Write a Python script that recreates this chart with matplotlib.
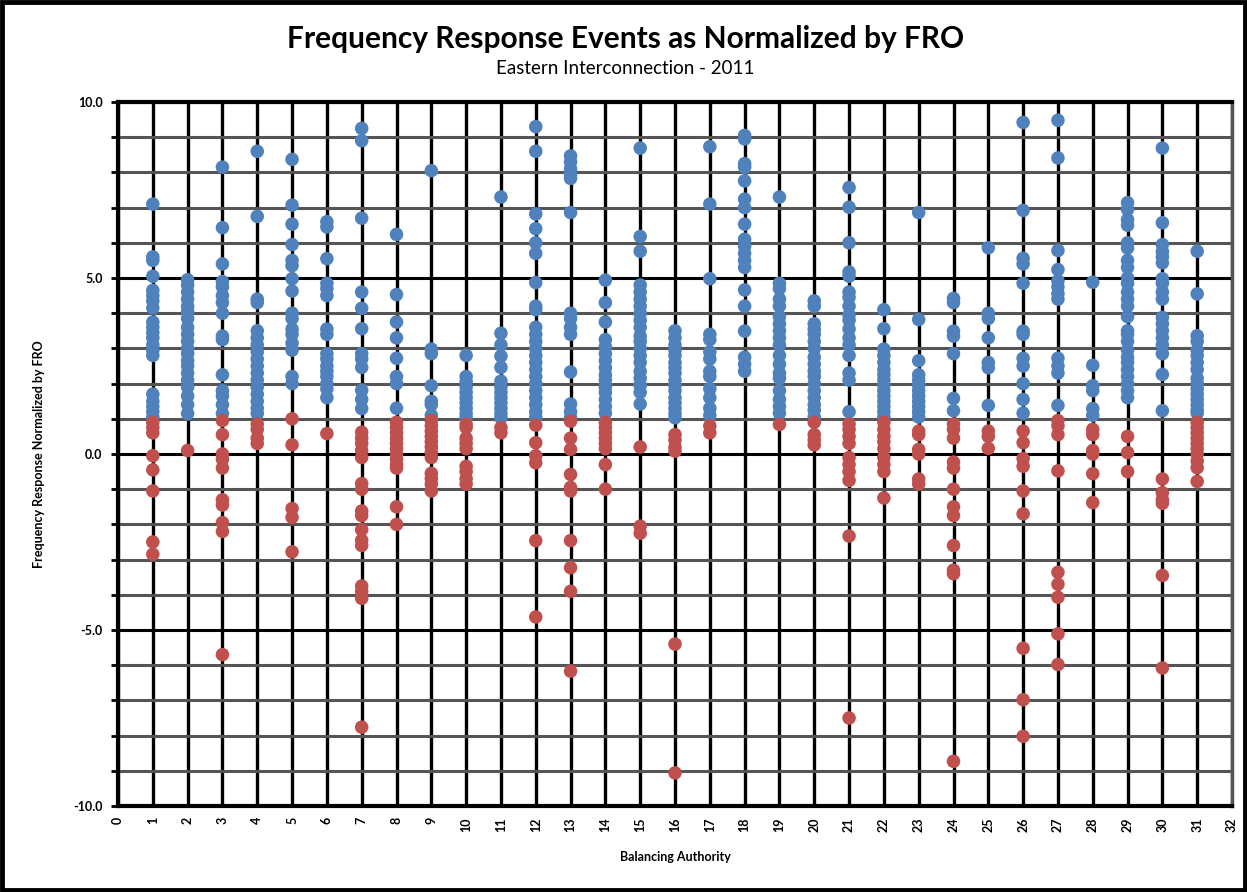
import numpy as np
import matplotlib
matplotlib.use("Agg")
import matplotlib.pyplot as plt
from matplotlib.patches import Rectangle

# normalized FRO values read per balancing authority (hi = blue, lo = red)
ba01_hi = [7.1, 5.6, 5.5, 5.05, 4.65, 4.5, 4.35, 4.15, 3.75, 3.6, 3.45, 3.3, 3.1, 2.95, 2.8, 1.7, 1.5, 1.35, 1.2, 1.05]
ba01_lo = [0.9, 0.75, 0.6, -0.05, -0.45, -1.05, -2.5, -2.85]
ba02_hi = [4.95, 4.8, 4.6, 4.4, 4.2, 4.05, 3.85, 3.6, 3.4, 3.2, 3.0, 2.85, 2.65, 2.5, 2.3, 2.1, 1.9, 1.65, 1.4, 1.15]
ba02_lo = [0.1]
ba03_hi = [8.15, 6.43, 5.4, 4.9, 4.75, 4.5, 4.3, 4.0, 3.35, 3.25, 2.25, 1.8, 1.65, 1.4, 1.15]
ba03_lo = [0.95, 0.55, 0.0, -0.15, -0.4, -1.3, -1.45, -1.95, -2.2, -5.7]
ba04_hi = [8.6, 6.75, 4.4, 4.3, 3.5, 3.3, 3.1, 2.9, 2.7, 2.5, 2.3, 2.1, 1.9, 1.7, 1.5, 1.3, 1.15]
ba04_lo = [0.85, 0.7, 0.45, 0.3]
ba05_hi = [8.37, 7.07, 6.53, 5.95, 5.5, 5.35, 4.98, 4.63, 4.0, 3.85, 3.55, 3.4, 3.15, 2.95, 2.2, 2.0]
ba05_lo = [1.0, 0.26, -1.55, -1.8, -2.78]
ba06_hi = [6.6, 6.45, 5.55, 4.85, 4.7, 4.5, 3.55, 3.4, 2.85, 2.7, 2.5, 2.35, 2.2, 2.0, 1.85, 1.6]
ba06_lo = [0.58]
ba07_hi = [9.25, 8.9, 6.7, 4.6, 4.14, 3.56, 2.85, 2.7, 2.46, 1.81, 1.55, 1.29]
ba07_lo = [0.62, 0.45, 0.3, 0.1, -0.1, -0.84, -1.0, -1.62, -1.75, -2.15, -2.45, -2.6, -3.75, -3.9, -4.1, -7.76]
ba08_hi = [6.24, 4.53, 3.75, 3.3, 2.72, 2.2, 2.0, 1.3]
ba08_lo = [0.9, 0.75, 0.6, 0.45, 0.3, 0.15, 0.0, -0.15, -0.3, -0.4, -1.5, -2.0]
ba09_hi = [8.05, 2.98, 2.85, 1.94, 1.5, 1.4, 1.1]
ba09_lo = [0.95, 0.8, 0.65, 0.5, 0.35, 0.2, 0.05, -0.1, -0.55, -0.7, -0.85, -1.05]
ba10_hi = [2.8, 2.2, 2.05, 1.9, 1.75, 1.6, 1.45, 1.3, 1.15, 1.03]
ba10_lo = [0.85, 0.75, 0.45, 0.3, 0.15, -0.35, -0.5, -0.7, -0.85]
ba11_hi = [7.3, 3.43, 3.1, 2.78, 2.46, 2.07, 1.9, 1.75, 1.6, 1.45, 1.3, 1.15, 1.03]
ba11_lo = [0.75, 0.6]
ba12_hi = [9.3, 8.6, 6.82, 6.4, 6.0, 5.7, 4.87, 4.2, 4.1, 3.6, 3.4, 3.2, 3.0, 2.8, 2.6, 2.4, 2.2, 2.0, 1.8, 1.6, 1.4, 1.2, 1.05]
ba12_lo = [0.82, 0.32, -0.05, -0.25, -2.46, -4.63]
ba13_hi = [8.47, 8.3, 8.1, 7.95, 7.83, 6.86, 4.0, 3.85, 3.6, 3.4, 2.33, 1.42, 1.2, 1.03]
ba13_lo = [0.93, 0.45, 0.13, -0.58, -0.95, -1.05, -2.46, -3.23, -3.9, -6.17]
ba14_hi = [4.94, 4.3, 3.75, 3.25, 3.05, 2.85, 2.65, 2.45, 2.25, 2.1, 1.9, 1.75, 1.55, 1.35, 1.16]
ba14_lo = [0.9, 0.75, 0.6, 0.45, 0.3, 0.15, -0.3, -1.0]
ba15_hi = [8.69, 6.18, 5.76, 4.8, 4.6, 4.4, 4.2, 4.0, 3.8, 3.6, 3.35, 3.2, 3.0, 2.8, 2.6, 2.35, 2.15, 1.95, 1.75, 1.42]
ba15_lo = [0.2, -2.05, -2.25]
ba16_hi = [3.5, 3.3, 3.1, 2.95, 2.8, 2.6, 2.45, 2.3, 2.1, 1.95, 1.8, 1.6, 1.45, 1.3, 1.15, 1.03]
ba16_lo = [0.55, 0.4, 0.2, 0.08, -5.4, -9.06]
ba17_hi = [8.73, 7.1, 4.98, 3.4, 3.25, 2.9, 2.7, 2.35, 2.2, 1.85, 1.6, 1.3, 1.1]
ba17_lo = [0.8, 0.6]
ba18_hi = [9.05, 8.95, 8.25, 8.15, 7.76, 7.24, 7.0, 6.53, 6.1, 5.9, 5.7, 5.5, 5.3, 4.66, 4.2, 3.49, 2.75, 2.55, 2.35]
ba18_lo = []
ba19_hi = [7.3, 4.85, 4.7, 4.4, 4.2, 3.9, 3.7, 3.5, 3.3, 3.1, 2.8, 2.55, 2.3, 2.15, 1.8, 1.55, 1.35, 1.16]
ba19_lo = [0.84]
ba20_hi = [4.35, 4.2, 3.7, 3.55, 3.4, 3.2, 3.0, 2.75, 2.55, 2.35, 2.2, 2.0, 1.8, 1.6, 1.4, 1.25, 1.05]
ba20_lo = [0.9, 0.55, 0.4, 0.26]
ba21_hi = [7.57, 7.01, 6.0, 5.17, 5.05, 4.6, 4.45, 4.2, 3.95, 3.8, 3.55, 3.3, 3.1, 2.8, 2.3, 2.1, 1.2]
ba21_lo = [0.85, 0.7, 0.5, 0.3, -0.1, -0.3, -0.5, -0.75, -2.33, -7.5]
ba22_hi = [4.1, 3.56, 2.98, 2.8, 2.6, 2.4, 2.25, 2.1, 1.95, 1.8, 1.65, 1.5, 1.35, 1.2, 1.05]
ba22_lo = [0.9, 0.7, 0.5, 0.35, 0.15, -0.1, -0.3, -0.5, -1.25]
ba23_hi = [6.86, 3.82, 2.65, 2.25, 2.1, 1.95, 1.8, 1.65, 1.5, 1.35, 1.2, 1.05]
ba23_lo = [0.65, 0.55, 0.13, 0.0, -0.71, -0.85]
ba24_hi = [4.42, 4.3, 3.49, 3.35, 2.85, 1.58, 1.23]
ba24_lo = [0.85, 0.7, 0.45, -0.23, -0.4, -1.0, -1.5, -1.75, -2.6, -3.3, -3.4, -8.73]
ba25_hi = [5.86, 4.0, 3.85, 3.3, 2.6, 2.45, 1.38]
ba25_lo = [0.65, 0.5, 0.16]
ba26_hi = [9.42, 6.92, 5.56, 5.4, 4.85, 3.49, 3.4, 2.72, 2.5, 2.0, 1.55, 1.16]
ba26_lo = [0.65, 0.32, -0.13, -0.35, -1.05, -1.7, -5.52, -6.98, -8.02]
ba27_hi = [9.48, 8.41, 5.78, 5.24, 4.92, 4.75, 4.55, 4.4, 2.72, 2.5, 2.3, 1.38]
ba27_lo = [0.95, 0.8, 0.55, -0.48, -3.36, -3.7, -4.07, -5.11, -5.98]
ba28_hi = [4.88, 2.52, 1.94, 1.8, 1.29, 1.1]
ba28_lo = [0.7, 0.55, 0.1, 0.0, -0.56, -1.38]
ba29_hi = [7.14, 6.95, 6.66, 6.5, 6.0, 5.85, 5.5, 5.3, 5.0, 4.85, 4.6, 4.4, 4.2, 3.9, 3.5, 3.4, 3.2, 2.95, 2.75, 2.6, 2.4, 2.2, 2.0, 1.8, 1.6]
ba29_lo = [0.5, 0.04, -0.5]
ba30_hi = [8.69, 6.57, 5.95, 5.75, 5.6, 5.43, 4.98, 4.85, 4.6, 4.4, 3.88, 3.7, 3.5, 3.3, 3.1, 2.85, 2.26, 1.23]
ba30_lo = [-0.71, -1.1, -1.3, -1.4, -3.45, -6.08]
ba31_hi = [5.76, 4.55, 3.36, 3.2, 2.95, 2.8, 2.6, 2.4, 2.15, 2.0, 1.85, 1.7, 1.55, 1.4, 1.25, 1.16]
ba31_lo = [0.9, 0.75, 0.6, 0.45, 0.3, 0.15, 0.0, -0.2, -0.39, -0.78]

hi_sets = [ba01_hi, ba02_hi, ba03_hi, ba04_hi, ba05_hi, ba06_hi, ba07_hi, ba08_hi, ba09_hi, ba10_hi,
           ba11_hi, ba12_hi, ba13_hi, ba14_hi, ba15_hi, ba16_hi, ba17_hi, ba18_hi, ba19_hi, ba20_hi,
           ba21_hi, ba22_hi, ba23_hi, ba24_hi, ba25_hi, ba26_hi, ba27_hi, ba28_hi, ba29_hi, ba30_hi, ba31_hi]
lo_sets = [ba01_lo, ba02_lo, ba03_lo, ba04_lo, ba05_lo, ba06_lo, ba07_lo, ba08_lo, ba09_lo, ba10_lo,
           ba11_lo, ba12_lo, ba13_lo, ba14_lo, ba15_lo, ba16_lo, ba17_lo, ba18_lo, ba19_lo, ba20_lo,
           ba21_lo, ba22_lo, ba23_lo, ba24_lo, ba25_lo, ba26_lo, ba27_lo, ba28_lo, ba29_lo, ba30_lo, ba31_lo]

title = "Frequency Response Events as Normalized by FRO"
subtitle = "Eastern Interconnection - 2011"

blue = "#4F81BD"
red = "#C0504D"

plt.rcParams['font.family'] = ['Lato', 'DejaVu Sans']

fig = plt.figure(figsize=(12.47, 8.92), dpi=100)
ax = fig.add_axes([118/1247, 1 - 806/892, (1232-118)/1247, (806-102)/892])

hx, hy, lx, ly = [], [], [], []
for i, vals in enumerate(hi_sets):
    hx += [i + 1] * len(vals)
    hy += vals
for i, vals in enumerate(lo_sets):
    lx += [i + 1] * len(vals)
    ly += vals

ax.scatter(hx, hy, s=95, color=blue, edgecolors='none', zorder=3)
ax.scatter(lx, ly, s=95, color=red, edgecolors='none', zorder=3)

ax.set_xlim(0, 32)
ax.set_ylim(-10, 10)
ax.set_xticks(np.arange(0, 33, 1))
ax.set_yticks([-10, -5, 0, 5, 10])
ax.set_yticks(np.arange(-10, 11, 1), minor=True)
ax.set_yticklabels(["-10.0", "-5.0", "0.0", "5.0", "10.0"], fontsize=9, fontweight='bold')
ax.set_xticklabels([str(v) for v in range(33)], rotation=90, fontsize=9, fontweight='bold')

ax.grid(True, which='minor', axis='y', color='#555555', lw=2.2, zorder=1)
ax.grid(True, which='major', axis='y', color='black', lw=2.2, zorder=1)
ax.grid(True, which='major', axis='x', color='black', lw=2.4, zorder=1)
ax.tick_params(axis='y', which='both', direction='out', length=5, width=2, pad=6)
ax.tick_params(axis='x', which='major', direction='out', length=0, pad=8)

for side in ['left', 'top', 'bottom']:
    ax.spines[side].set_linewidth(3)
    ax.spines[side].set_color('black')
ax.spines['right'].set_linewidth(2.5)
ax.spines['right'].set_color('#555555')

ax.set_xlabel("Balancing Authority", fontsize=9, fontweight='bold', labelpad=14)
ax.set_ylabel("Frequency Response Normalized by FRO", fontsize=9, fontweight='bold', labelpad=20)

fig.text(0.5015, 1 - 39/892, title, ha='center', va='center', fontsize=21.5, fontweight='bold')
fig.text(0.5015, 1 - 69/892, subtitle, ha='center', va='center', fontsize=13.5)

fig.patches.append(Rectangle((0.0015, 0.002), 0.997, 0.996, transform=fig.transFigure,
                             fill=False, lw=3.5, edgecolor='black'))

fig.savefig("out.png", dpi=100)
